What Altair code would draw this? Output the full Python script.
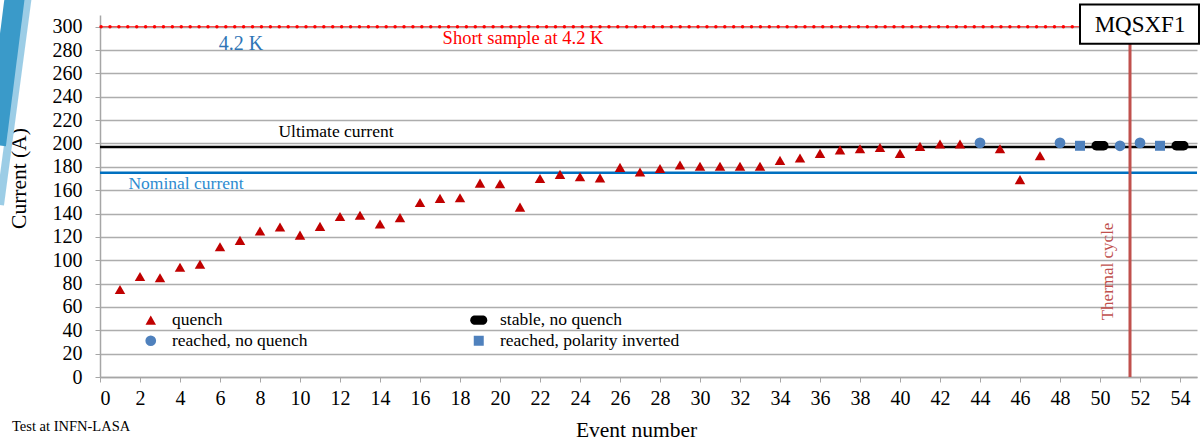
import altair as alt
import pandas as pd

# ---- data ----
quench_event = [1, 2, 3, 4, 5, 6, 7, 8, 9, 10, 11, 12, 13, 14, 15, 16, 17, 18, 19, 20,
                21, 22, 23, 24, 25, 26, 27, 28, 29, 30, 31, 32, 33, 34, 35, 36, 37, 38,
                39, 40, 41, 42, 43, 45, 46, 47]
quench_current = [75, 86, 85, 94, 96.5, 111.5, 117, 125, 128.5, 121.5, 129, 137.5, 138.5,
                  131, 136.5, 149.5, 153, 153.5, 166, 165.5, 145.5, 170, 173.5, 171.5,
                  170.5, 179.5, 175.5, 178.5, 181.5, 180.5, 180.5, 180.5, 180.5, 185.5,
                  187.5, 191.5, 194.5, 195.5, 196.5, 191.5, 197.5, 199.5, 199.5, 195.5,
                  169, 189.5]
reached_event = [44, 48, 51, 52]
reached_current = [200.5, 200.5, 198, 200.5]
polarity_event = [49, 53]
polarity_current = [198, 198]
stable_event = [50, 54]
stable_current = [198, 198]

categories = ["quench", "reached, no quench", "stable, no quench", "reached, polarity inverted"]

short_sample = 300
ultimate_current = 197
nominal_current = 175
thermal_cycle_event = 51.5

x_ticks = list(range(0, 55, 2))
y_ticks = list(range(0, 301, 20))

FONT = "Liberation Serif"

rows = []
for e, c in zip(quench_event, quench_current):
    rows.append({"event": e, "current": c, "kind": categories[0]})
for e, c in zip(reached_event, reached_current):
    rows.append({"event": e, "current": c, "kind": categories[1]})
for e, c in zip(stable_event, stable_current):
    rows.append({"event": e, "current": c, "kind": categories[2]})
for e, c in zip(polarity_event, polarity_current):
    rows.append({"event": e, "current": c, "kind": categories[3]})
df = pd.DataFrame(rows)


def xscale():
    return alt.Scale(domain=[0, 54.85], nice=False, zero=False)


def yscale():
    return alt.Scale(domain=[0, 310], nice=False, zero=True)


pill = ("M -0.45 -0.55 L 0.45 -0.55 A 0.55 0.55 0 0 1 0.45 0.55 "
        "L -0.45 0.55 A 0.55 0.55 0 0 1 -0.45 -0.55 Z")

legend = alt.Legend(orient="none", legendX=42, legendY=296, columns=2, title=None,
                    columnPadding=162, rowPadding=2, labelFont=FONT, labelFontSize=17.5,
                    labelColor="black", labelOffset=12.5, padding=0, symbolStrokeWidth=0,
                    labelLimit=0)


def x_axis():
    return alt.Axis(values=x_ticks, title="Event number", grid=False,
                    titleX=536, titleY=53, titleBaseline="middle",
                    titleAlign="center", labelPadding=6, labelOverlap=False)


def y_axis():
    return alt.Axis(values=y_ticks, title="Current (A)", grid=True,
                    titleX=-81, titleY=163, titleBaseline="middle",
                    titleAlign="center", labelPadding=13, labelOverlap=False)


points = alt.Chart(df).mark_point(filled=True, opacity=1).encode(
    x=alt.X("event:Q", scale=xscale(), axis=x_axis()),
    y=alt.Y("current:Q", scale=yscale(), axis=y_axis()),
    shape=alt.Shape("kind:N", scale=alt.Scale(domain=categories,
                    range=["triangle-up", "circle", pill, "square"]), legend=legend),
    color=alt.Color("kind:N", scale=alt.Scale(domain=categories,
                    range=["#C00000", "#4F81BD", "#000000", "#4F81BD"]), legend=legend),
    size=alt.Size("kind:N", scale=alt.Scale(type="ordinal", domain=categories,
                  range=[110, 115, 289, 100]), legend=legend),
)

hline = lambda v, **kw: alt.Chart(pd.DataFrame({"v": [v]})).mark_rule(**kw).encode(
    y=alt.Y("v:Q", scale=yscale(), axis=y_axis()))

short_thin = hline(short_sample, color="#FF0000", strokeWidth=0.8)
short_dots = hline(short_sample, color="#FF0000", strokeWidth=3.5,
                   strokeDash=[0.01, 8.9], strokeCap="round")
ultimate = hline(ultimate_current, color="#000000", strokeWidth=2.5)
nominal = hline(nominal_current, color="#0070C0", strokeWidth=2.5)

thermal = alt.Chart(pd.DataFrame({"e": [thermal_cycle_event]})).mark_rule(
    color="#C0504D", strokeWidth=3).encode(
    x=alt.X("e:Q", scale=xscale(), axis=x_axis()),
    y=alt.YDatum(0, scale=yscale(), axis=y_axis()), y2=alt.Y2Datum(310))

box = alt.Chart(pd.DataFrame({"a": [0]})).mark_rect(
    fill="white", stroke="black", strokeWidth=2).encode(
    x=alt.XDatum(49, scale=xscale(), axis=x_axis()), x2=alt.X2Datum(54.95),
    y=alt.YDatum(318.9, scale=yscale(), axis=y_axis()), y2=alt.Y2Datum(285.4))


def label(text, x, y, color, size, angle=0):
    return alt.Chart(pd.DataFrame({"t": [text]})).mark_text(
        font=FONT, fontSize=size, color=color, angle=angle,
        align="center", baseline="middle").encode(
        x=alt.XDatum(x, scale=xscale(), axis=x_axis()),
        y=alt.YDatum(y, scale=yscale(), axis=y_axis()), text="t:N")


texts = [
    label("MQSXF1", 52, 301.7, "black", 23),
    label("4.2 K", 7.05, 285.4, "#2E75B6", 20),
    label("Short sample at 4.2 K", 21.15, 290.6, "#FF0000", 18.5),
    label("Ultimate  current", 11.8, 210, "black", 17.5),
    label("Nominal  current", 4.3, 165.4, "#2E8BD0", 17.5),
    label("Thermal  cycle", 50.4, 90.4, "#C0504D", 17, angle=270),
]

footer = alt.Chart(pd.DataFrame({"t": ["Test at INFN-LASA"]})).mark_text(
    font=FONT, fontSize=14.5, color="black", align="left", baseline="middle").encode(
    x=alt.value(-88), y=alt.value(412), text="t:N")

deco1 = alt.Chart(pd.DataFrame({"a": [0]})).mark_rule(
    color="#3A9AC9", strokeWidth=20, strokeCap="butt").encode(
    x=alt.value(-85), y=alt.value(-20), x2=alt.value(-104), y2=alt.value(130))
deco2 = alt.Chart(pd.DataFrame({"a": [0]})).mark_rule(
    color="#9CCDE6", strokeWidth=8, strokeCap="butt").encode(
    x=alt.value(-72), y=alt.value(-20), x2=alt.value(-100), y2=alt.value(190))

chart = alt.layer(
    deco2, deco1, short_thin, short_dots, ultimate, nominal, thermal, points, box,
    *texts, footer
).properties(
    width=1097, height=362,
    padding={"left": 100, "top": 15, "right": 5, "bottom": 64},
    autosize=alt.AutoSizeParams(type="none"),
).configure_view(stroke=None).configure_axis(
    domainColor="#A6A6A6", tickColor="#A6A6A6", tickSize=5, domainWidth=1.5,
    gridColor="#ADADAD", gridWidth=1.3,
    labelFont=FONT, labelFontSize=20, labelColor="black",
    titleFont=FONT, titleFontSize=21.5, titleFontWeight="normal", titleColor="black",
)

chart.save("out.html", embed_options={"renderer": "svg", "actions": False})
